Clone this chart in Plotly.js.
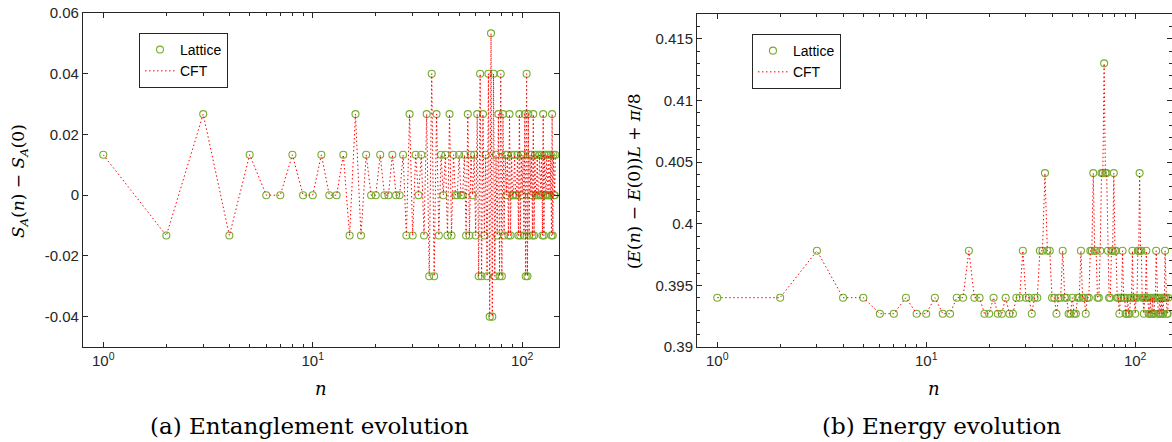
<!DOCTYPE html>
<html>
<head>
<meta charset="utf-8">
<script src="https://cdn.plot.ly/plotly-3.0.1.min.js"></script>
<style>html,body{margin:0;padding:0;background:#fff;}#chart{width:1172px;height:442px;}</style>
</head>
<body>
<div id="chart"></div>
<script>
// time step n
const nSteps = [1,2,3,4,5,6,7,8,9,10,11,12,13,14,15,16,17,18,19,20,
21,22,23,24,25,26,27,28,29,30,31,32,33,34,35,36,37,38,39,40,
41,42,43,44,45,46,47,48,49,50,51,52,53,54,55,56,57,58,59,60,
61,62,63,64,65,66,67,68,69,70,71,72,73,74,75,76,77,78,79,80,
81,82,83,84,85,86,87,88,89,90,91,92,93,94,95,96,97,98,99,100,
101,102,103,104,105,106,107,108,109,110,111,112,113,114,115,116,117,118,119,120,
121,122,123,124,125,126,127,128,129,130,131,132,133,134,135,136,137,138,139,140,
141,142,143,144];

// (a) S_A(n) - S_A(0)
const entropyLattice = [
0.0133,-0.0133,0.0267,-0.0133,0.0133,0,0,0.0133,0,0,
0.0133,0,0,0.0133,-0.0133,0.0267,-0.0133,0.0133,0,0,
0.0133,0,0,0.0133,0,0,0.0133,-0.0133,0.0267,-0.0133,
0.0133,0,0.0133,-0.0133,0.0267,-0.0267,0.04,-0.0267,0.0267,-0.0133,
0.0133,0,0.0133,-0.0133,0.0267,-0.0133,0.0133,0,0,0.0133,
0,0,0.0133,-0.0133,0.0267,-0.0133,0.0133,0,0.0133,-0.0133,
0.0267,-0.0267,0.04,-0.0267,0.0267,-0.0133,0.0133,-0.0267,0.04,-0.04,
0.0533,-0.04,0.04,-0.0267,0.0133,-0.0133,0.0267,-0.0267,0.04,-0.0267,
0.0267,-0.0133,0.0133,0,0.0133,-0.0133,0.0267,-0.0133,0.0133,0,
0,0.0133,0,0,0.0133,-0.0133,0.0267,-0.0133,0.0133,0,
0.0133,-0.0133,0.0267,-0.0267,0.04,-0.0267,0.0267,-0.0133,0.0133,0,
0.0133,-0.0133,0.0267,-0.0133,0.0133,0,0,0.0133,0,0,
0.0133,0,0,0.0133,-0.0133,0.0267,-0.0133,0.0133,0,0,
0.0133,0,0,0.0133,0,0,0.0133,-0.0133,0.0267,-0.0133,
0.0133,0,0,0.0133];
const entropyCFT = entropyLattice.slice();

// (b) (E(n) - E(0))L + pi/8
const energyLattice = [
0.394,0.394,0.3978,0.394,0.394,0.3927,0.3927,0.394,0.3927,0.3927,
0.394,0.3927,0.3927,0.394,0.394,0.3978,0.394,0.394,0.3927,0.3927,
0.394,0.3927,0.3927,0.394,0.3927,0.3927,0.394,0.394,0.3978,0.394,
0.394,0.3927,0.394,0.394,0.3978,0.3978,0.4041,0.3978,0.3978,0.394,
0.394,0.3927,0.394,0.394,0.3978,0.394,0.394,0.3927,0.3927,0.394,
0.3927,0.3927,0.394,0.394,0.3978,0.394,0.394,0.3927,0.394,0.394,
0.3978,0.3978,0.4041,0.3978,0.3978,0.394,0.394,0.3978,0.4041,0.4041,
0.413,0.4041,0.4041,0.3978,0.394,0.394,0.3978,0.3978,0.4041,0.3978,
0.3978,0.394,0.394,0.3927,0.394,0.394,0.3978,0.394,0.394,0.3927,
0.3927,0.394,0.3927,0.3927,0.394,0.394,0.3978,0.394,0.394,0.3927,
0.394,0.394,0.3978,0.3978,0.4041,0.3978,0.3978,0.394,0.394,0.3927,
0.394,0.394,0.3978,0.394,0.394,0.3927,0.3927,0.394,0.3927,0.3927,
0.394,0.3927,0.3927,0.394,0.394,0.3978,0.394,0.394,0.3927,0.3927,
0.394,0.3927,0.3927,0.394,0.3927,0.3927,0.394,0.394,0.3978,0.394,
0.394,0.3927,0.3927,0.394];
const energyCFT = energyLattice.slice();

const xTickVals = [1, 10, 100];
const xTickText = ['10<sup>0</sup>', '10<sup>1</sup>', '10<sup>2</sup>'];
const xMinorVals = [2,3,4,5,6,7,8,9,20,30,40,50,60,70,80,90,200];
const yTickValsA = [-0.04, -0.02, 0, 0.02, 0.04, 0.06];
const yTickTextA = ['-0.04', '-0.02', '0', '0.02', '0.04', '0.06'];
const yTickValsB = [0.39, 0.395, 0.4, 0.405, 0.41, 0.415];
const yTickTextB = ['0.39', '0.395', '0.4', '0.405', '0.41', '0.415'];

const GREEN = '#77AC30';
const RED = '#FF0000';
const AX = '#262626';
const SANS = 'Liberation Sans, Arial, Helvetica, sans-serif';
const SERIF = 'DejaVu Serif, Liberation Serif, serif';

function lattice(x, y, xa, ya, lg, show) {
  return {x: x, y: y, xaxis: xa, yaxis: ya, legend: lg, name: 'Lattice', type: 'scatter', mode: 'markers',
    marker: {symbol: 'circle-open', size: 7, color: GREEN, line: {color: GREEN, width: 1.1}}, showlegend: show};
}
function cft(x, y, xa, ya, lg, show) {
  return {x: x, y: y, xaxis: xa, yaxis: ya, legend: lg, name: 'CFT', type: 'scatter', mode: 'lines',
    line: {color: RED, width: 1, dash: '1.5px,2.5px'}, showlegend: show};
}

const traces = [
  lattice(nSteps, entropyLattice, 'x', 'y', 'legend', true),
  cft(nSteps, entropyCFT, 'x', 'y', 'legend', true),
  lattice(nSteps, energyLattice, 'x2', 'y2', 'legend2', true),
  cft(nSteps, energyCFT, 'x2', 'y2', 'legend2', true)
];

const axBase = {
  showline: true, linecolor: AX, linewidth: 1, mirror: 'ticks',
  ticks: 'inside', ticklen: 5, tickwidth: 1, tickcolor: AX,
  showgrid: false, zeroline: false,
  tickfont: {family: SANS, size: 15, color: AX}
};
function xAx(domain, anchor) {
  return Object.assign({}, axBase, {
    domain: domain, anchor: anchor, type: 'log',
    range: [Math.log10(0.8), Math.log10(150)],
    tickmode: 'array', tickvals: xTickVals, ticktext: xTickText,
    tickfont: {family: SANS, size: 15, color: AX},
    minor: {ticks: 'inside', ticklen: 3, tickwidth: 1, tickcolor: AX, tickmode: 'array', tickvals: xMinorVals}
  });
}

const legendBase = {
  xref: 'paper', yref: 'paper', xanchor: 'left', yanchor: 'top',
  bgcolor: 'white', bordercolor: AX, borderwidth: 1,
  font: {family: SANS, size: 14, color: '#000'}, tracegroupgap: 0, itemwidth: 30
};

const layout = {
  width: 1172, height: 442,
  margin: {l: 0, r: 0, t: 0, b: 0, pad: 0},
  paper_bgcolor: 'white', plot_bgcolor: 'white',
  font: {family: SANS, size: 14, color: AX},
  showlegend: true,
  xaxis: xAx([0.0708, 0.4770], 'y'),
  xaxis2: xAx([0.5947, 1.0], 'y2'),
  yaxis: Object.assign({}, axBase, {
    domain: [0.2149, 0.9706], anchor: 'x', range: [-0.05, 0.06],
    tickmode: 'array', tickvals: yTickValsA, ticktext: yTickTextA
  }),
  yaxis2: Object.assign({}, axBase, {
    domain: [0.2149, 0.9683], anchor: 'x2', range: [0.39, 0.417],
    tickmode: 'array', tickvals: yTickValsB, ticktext: yTickTextB,
    minor: {ticks: 'inside', ticklen: 3, tickwidth: 1, tickcolor: AX, tick0: 0.39, dtick: 0.001}
  }),
  legend: Object.assign({}, legendBase, {x: 0.1186, y: 0.9253}),
  legend2: Object.assign({}, legendBase, {x: 0.6416, y: 0.923}),
  annotations: [
    {text: '<i>S</i><sub><i>A</i></sub>(<i>n</i>) − <i>S</i><sub><i>A</i></sub>(0)', xref: 'paper', yref: 'paper',
     x: 0.0171, y: 0.5905, textangle: -90, showarrow: false, xanchor: 'center', yanchor: 'middle',
     font: {family: SERIF, size: 17, color: '#000'}},
    {text: '(<i>E</i>(<i>n</i>) − <i>E</i>(0))<i>L</i> + <i>π</i>/8', xref: 'paper', yref: 'paper',
     x: 0.541, y: 0.5905, textangle: -90, showarrow: false, xanchor: 'center', yanchor: 'middle',
     font: {family: SERIF, size: 17, color: '#000'}},
    {text: '<i>n</i>', xref: 'paper', yref: 'paper', x: 0.274, y: 0.122, showarrow: false,
     xanchor: 'center', yanchor: 'middle', font: {family: SERIF, size: 18, color: '#000'}},
    {text: '<i>n</i>', xref: 'paper', yref: 'paper', x: 0.797, y: 0.122, showarrow: false,
     xanchor: 'center', yanchor: 'middle', font: {family: SERIF, size: 18, color: '#000'}},
    {text: '(a) Entanglement evolution', xref: 'paper', yref: 'paper', x: 0.2645, y: 0.036, showarrow: false,
     xanchor: 'center', yanchor: 'middle', font: {family: SERIF, size: 23, color: '#000'}},
    {text: '(b) Energy evolution', xref: 'paper', yref: 'paper', x: 0.803, y: 0.036, showarrow: false,
     xanchor: 'center', yanchor: 'middle', font: {family: SERIF, size: 23, color: '#000'}}
  ]
};

Plotly.newPlot('chart', traces, layout, {displayModeBar: false, staticPlot: true});
</script>
</body>
</html>
